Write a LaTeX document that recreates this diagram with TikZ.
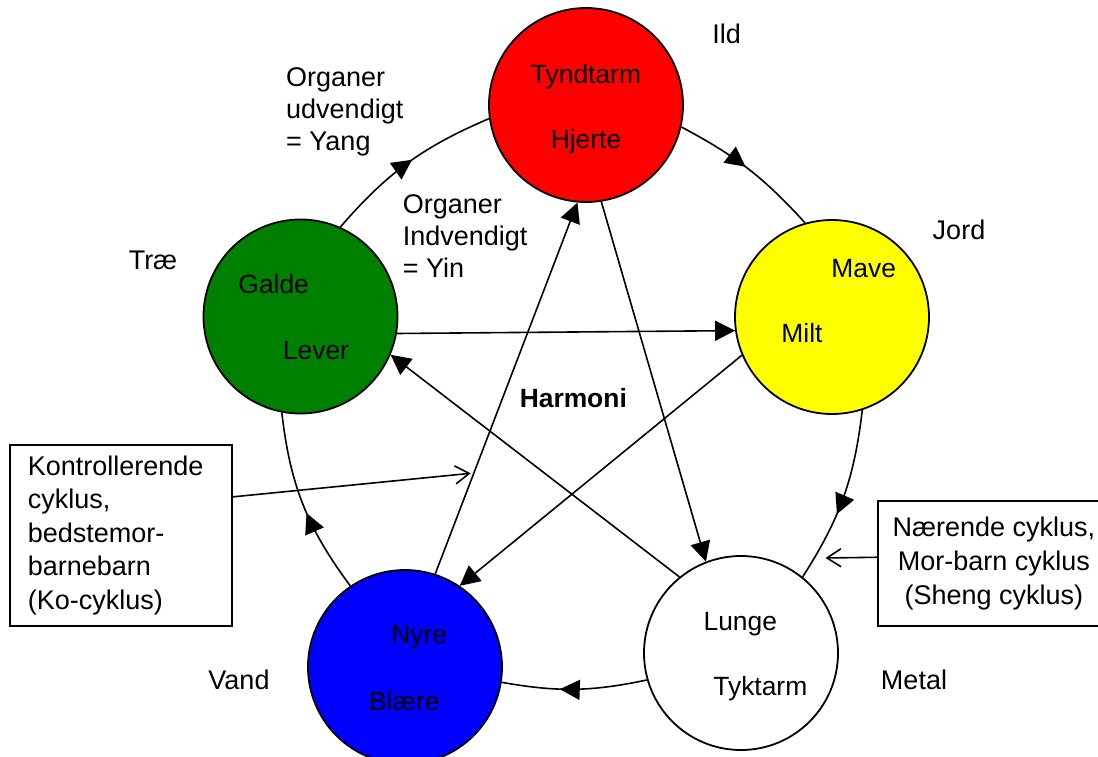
\documentclass[tikz,border=0pt]{standalone}
\usepackage{fontspec}
\setmainfont{Liberation Sans}
\usetikzlibrary{arrows.meta,decorations.markings}

\definecolor{firered}{RGB}{255,0,0}
\definecolor{earthyellow}{RGB}{255,255,0}
\definecolor{waterblue}{RGB}{0,0,255}
\definecolor{woodgreen}{RGB}{0,128,0}

\tikzset{
  element/.style={circle, draw=black, line width=1.8pt, minimum size=194pt, inner sep=0pt},
  organ/.style={anchor=base, inner sep=0pt, font=\fontsize{26.4pt}{31pt}\selectfont},
  tag/.style={anchor=base, inner sep=0pt},
  kolink/.style={line width=1.6pt, -{Triangle[length=20pt,width=20pt]}},
  shenglink/.style={line width=1.6pt, postaction={decorate},
    decoration={markings, mark=at position #1 with {\arrow{Triangle[length=20pt,width=20pt]}}}},
  note/.style={draw=black, line width=1.8pt, inner ysep=0pt},
  notearrow/.style={line width=1.6pt, -{Straight Barb[length=14pt,width=18pt]}},
}

\begin{document}
\begin{tikzpicture}[x=1pt, y=-1pt,
  every node/.style={font=\fontsize{27pt}{32pt}\selectfont}]

\fill[white] (0,0) rectangle (1098,757);
\useasboundingbox (0,0) rectangle (1098,757);

% the five elements
\node[element, fill=firered]     (ild)   at (586,105)     {};
\node[element, fill=earthyellow] (jord)  at (832,317)     {};
\node[element, fill=white]       (metal) at (741,653)     {};
\node[element, fill=waterblue]   (vand)  at (405,667)     {};
\node[element, fill=woodgreen]   (trae)  at (300.5,316.5) {};

% nourishing (Sheng) cycle: arcs round the outside
\draw[shenglink=0.53] (trae.66.7)   to[bend left=13] (ild.188.8);
\draw[shenglink=0.48] (ild.347)     to[bend left=10] (jord.106);
\draw[shenglink=0.6]  (jord.288.6)  to[bend left=13] (metal.51);
\draw[shenglink=0.6]  (metal.196)   to[bend left=11] (vand.351.7);
\draw[shenglink=0.45] (vand.124.3)  to[bend left=15] (trae.259.7);

% controlling (Ko) cycle: the star inside
\draw[kolink] (trae.350.8)  -- (jord.188.8);
\draw[kolink] (jord.203.6)  -- (vand.56.2);
\draw[kolink] (vand.72.6)   -- (ild.265.3);
\draw[kolink] (ild.279.2)   -- (metal.111.7);
\draw[kolink] (metal.129.2) -- (trae.337.4);

% organs
\node[organ] (tyndtarm) at (586,83.3)    {Tyndtarm};
\node[organ] (hjerte)   at (586,149)     {Hjerte};
\node[organ] (mave)     at (863.7,277)   {Mave};
\node[organ] (milt)     at (802,342)     {Milt};
\node[organ] (lunge)    at (740.3,630)   {Lunge};
\node[organ] (tyktarm)  at (760.3,695)   {Tyktarm};
\node[organ] (nyre)     at (419.3,643.3) {Nyre};
\node[organ] (blaere)   at (404.3,710)   {Blære};
\node[organ] (galde)    at (273.7,293.3) {Galde};
\node[organ] (lever)    at (316,359.3)   {Lever};

% element names
\node[tag] (ildlbl)   at (726.7,44)  {Ild};
\node[tag] (jordlbl)  at (959,239.3) {Jord};
\node[tag] (traelbl)  at (153,269)   {Træ};
\node[tag] (vandlbl)  at (239,689)   {Vand};
\node[tag] (metallbl) at (914,689)   {Metal};
\node[organ, font=\fontsize{26.4pt}{31pt}\selectfont\bfseries] (harmoni) at (573.3,407.7) {Harmoni};

\node[anchor=north west, align=left, inner sep=0pt] (yang) at (286,67)
  {Organer\\udvendigt\\= Yang};
\node[anchor=north west, align=left, inner sep=0pt] (yin) at (402.7,194)
  {Organer\\Indvendigt\\= Yin};

% explanatory boxes
\node[note, anchor=north west, text width=186pt, inner xsep=18pt, align=left,
  minimum height=181pt, font=\fontsize{27pt}{33.6pt}\selectfont] (kobox) at (9,444)
  {Kontrollerende\\cyklus,\\bedstemor-\\barnebarn\\(Ko-cyklus)};
\node[note, anchor=north west, align=center, minimum width=232pt, minimum height=125pt,
  font=\fontsize{27pt}{34pt}\selectfont] (shengbox) at (877,500)
  {Nærende cyklus,\\Mor-barn cyklus\\(Sheng cyklus)};

\coordinate (kotip)    at (470.7,473.3);
\coordinate (shengtip) at (825.5,558);
\draw[notearrow] (kobox.19.4)      -- (kotip);
\draw[notearrow] (shengbox.177.8)  -- (shengtip);

\end{tikzpicture}
\end{document}
